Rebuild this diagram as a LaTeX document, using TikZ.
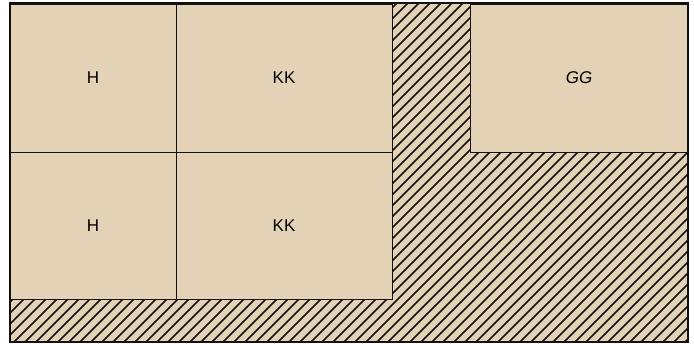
\documentclass[tikz,border=0pt]{standalone}
\usepackage{fontspec}
\setmainfont{Liberation Sans}
\usetikzlibrary{positioning}
\definecolor{sandfill}{HTML}{E3D2B5}
\definecolor{edgecolor}{HTML}{111111}

\begin{document}
\begin{tikzpicture}[
    x=1pt, y=-1pt,
    node distance=0pt,
    cell/.style={rectangle, draw=edgecolor, fill=sandfill, line width=0.9pt,
                 inner sep=0pt, outer sep=0pt, minimum height=#1,
                 font=\fontsize{17}{20}\selectfont},
    cell/.default=148pt,
    hatch/.style={line width=1.5pt, color=edgecolor}
]
\useasboundingbox (0,0) rectangle (694,343);

% frame and hatching behind the cells
\coordinate (nw) at (10,3);
\coordinate (se) at (688,342);
\fill[sandfill] (nw) rectangle (se);
\begin{scope}
  \clip (nw) rectangle (se);
  \foreach \c in {-350,-339,...,700}
    \draw[hatch] (\c,343) -- ++(343,-343);
\end{scope}

% cells
\node[cell, minimum width=166pt, anchor=north west] (h1) at (10,4) {H};
\node[cell, minimum width=216pt, right=of h1] (kk1) {KK};
\node[cell=147pt, minimum width=166pt, below=of h1] (h2) {H};
\node[cell=147pt, minimum width=216pt, right=of h2] (kk2) {KK};
\node[cell, minimum width=218pt, anchor=north east] (gg) at (688,4) {\itshape GG};

\draw[line width=1.6pt, edgecolor] (nw) rectangle (se);

\end{tikzpicture}
\end{document}
